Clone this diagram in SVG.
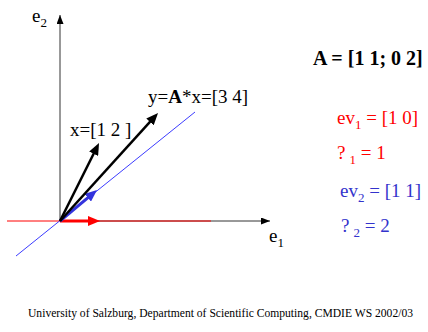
<svg xmlns="http://www.w3.org/2000/svg" width="428" height="332" viewBox="0 0 428 332" font-family="'Liberation Serif', 'Times New Roman', serif">
<style>
text{font-family:"Liberation Serif","Times New Roman",serif;}
.lbl{font-size:19px;fill:#000;}
.sub{font-size:13px;}
.axis{stroke:#333;stroke-width:1;fill:none;}
.vec{stroke:#000;stroke-width:2.5;fill:none;}
.red{fill:#ff0000;}
.blue{fill:#3333cc;}
</style>
<defs>
<marker id="ah" markerUnits="userSpaceOnUse" markerWidth="9" markerHeight="7" refX="9" refY="3.5" orient="auto"><path d="M0,0 L9,3.5 L0,7 z" fill="#000"/></marker>
<marker id="hk" markerUnits="userSpaceOnUse" markerWidth="12" markerHeight="10" refX="3" refY="5" orient="auto"><path d="M0,0 L12,5 L0,10 z" fill="#000"/></marker>
<marker id="hr" markerUnits="userSpaceOnUse" markerWidth="12" markerHeight="10" refX="3" refY="5" orient="auto"><path d="M0,0 L12,5 L0,10 z" fill="#ff0000"/></marker>
<marker id="hb" markerUnits="userSpaceOnUse" markerWidth="12" markerHeight="10" refX="3" refY="5" orient="auto"><path d="M0,0 L12,5 L0,10 z" fill="#3333dd"/></marker>
</defs>
<g id="connectors">
<line class="axis" x1="60" y1="221" x2="60" y2="15" marker-end="url(#ah)"/>
<line class="axis" x1="60" y1="221" x2="270" y2="221" marker-end="url(#ah)"/>
<line x1="7" y1="221" x2="211" y2="221" stroke="#ff0000" stroke-width="1"/>
<line x1="16" y1="256" x2="195" y2="112" stroke="#3c3cff" stroke-width="1"/>
<line x1="60" y1="221" x2="91" y2="221" stroke="#ff0000" stroke-width="3" marker-end="url(#hr)"/>
<line x1="60" y1="221" x2="90.1" y2="195.8" stroke="#3333dd" stroke-width="3" marker-end="url(#hb)"/>
<line class="vec" x1="60" y1="221" x2="95" y2="151" marker-end="url(#hk)"/>
<line class="vec" x1="60" y1="221" x2="152" y2="119.7" marker-end="url(#hk)"/>
</g>
<g id="label-e2"><text class="lbl" x="32" y="22" font-family="'Liberation Serif', serif">e<tspan class="sub" dy="5">2</tspan></text></g>
<g id="label-e1"><text class="lbl" x="269" y="242" font-family="'Liberation Serif', serif">e<tspan class="sub" dy="5">1</tspan></text></g>
<g id="label-x"><text class="lbl" x="70" y="136" font-family="'Liberation Serif', serif">x=[1 2 ]</text></g>
<g id="label-y"><text class="lbl" x="148" y="103" font-family="'Liberation Serif', serif">y=<tspan font-weight="bold">A</tspan>*x=[3 4]</text></g>
<g id="matrix"><text x="313" y="65" font-size="20" font-weight="bold" font-family="'Liberation Serif', serif">A = [1 1; 0 2]</text></g>
<g id="ev1"><text class="lbl red" x="337" y="124" font-family="'Liberation Serif', serif">ev<tspan class="sub" dy="5">1</tspan><tspan dy="-5"> = [1 0]</tspan></text></g>
<g id="lambda1"><text class="lbl red" x="337" y="159" font-family="'Liberation Serif', serif">?<tspan class="sub" dx="4" dy="5">1</tspan><tspan dy="-5"> = 1</tspan></text></g>
<g id="ev2"><text class="lbl blue" x="340" y="197" font-family="'Liberation Serif', serif">ev<tspan class="sub" dy="5">2</tspan><tspan dy="-5"> = [1 1]</tspan></text></g>
<g id="lambda2"><text class="lbl blue" x="341" y="232" font-family="'Liberation Serif', serif">?<tspan class="sub" dx="4" dy="5">2</tspan><tspan dy="-5"> = 2</tspan></text></g>
<g id="footer"><text x="28" y="317" font-size="11.6" fill="#000" font-family="'Liberation Serif', serif">University of Salzburg, Department of Scientific Computing, CMDIE WS 2002/03</text></g>
</svg>
